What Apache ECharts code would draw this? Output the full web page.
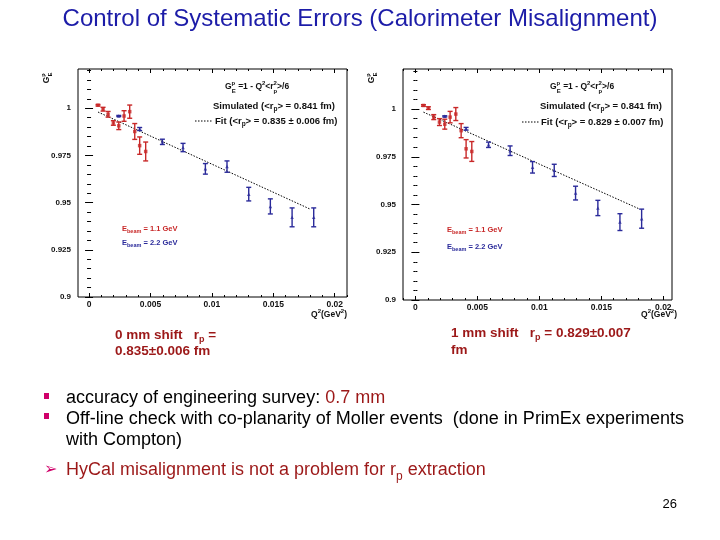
<!DOCTYPE html>
<html><head><meta charset="utf-8">
<script src="https://cdn.jsdelivr.net/npm/echarts@6/dist/echarts.min.js"></script>
<style>html,body{margin:0;padding:0;background:#fff}#c{width:720px;height:540px}</style>
</head><body><div id="c"></div>
<script>
// ---- data ----
// Left plot: 0 mm shift
const L_red_q2  = [0.00073,0.00114,0.00155,0.00198,0.00242,0.00285,0.00331,0.00372,0.00412,0.00461];
const L_red_ge  = [1.0016,0.9995,0.9968,0.9922,0.9907,0.9959,0.9982,0.9877,0.9802,0.9771];
const L_red_err = [0.0004,0.0010,0.0015,0.0012,0.0020,0.0028,0.0035,0.0042,0.0046,0.0050];
const L_blue_q2  = [0.00242,0.00412,0.00597,0.00765,0.00947,0.01123,0.01300,0.01476,0.01653,0.01829];
const L_blue_ge  = [0.9959,0.9890,0.9822,0.9792,0.9679,0.9691,0.9545,0.9480,0.9422,0.9422];
const L_blue_err = [0.0003,0.0008,0.0014,0.0022,0.0028,0.0030,0.0036,0.0040,0.0050,0.0050];
const L_fit_q2 = [0.00073,0.01802];
const L_fit_ge = [0.9980,0.9465];
// Right plot: 1 mm shift
const R_red_q2  = [0.00065,0.00105,0.00148,0.00194,0.00237,0.00280,0.00326,0.00369,0.00409,0.00455];
const R_red_ge  = [1.0019,1.0005,0.9958,0.9932,0.9921,0.9958,0.9974,0.9887,0.9792,0.9778];
const R_red_err = [0.0004,0.0007,0.0013,0.0018,0.0026,0.0030,0.0034,0.0037,0.0048,0.0052];
const R_blue_q2  = [0.00237,0.00409,0.00590,0.00764,0.00945,0.01120,0.01292,0.01472,0.01650,0.01825];
const R_blue_ge  = [0.9962,0.9897,0.9813,0.9782,0.9695,0.9679,0.9560,0.9482,0.9408,0.9426];
const R_blue_err = [0.0003,0.0007,0.0014,0.0025,0.0030,0.0032,0.0036,0.0040,0.0044,0.0050];
const R_fit_q2 = [0.00065,0.01803];
const R_fit_ge = [0.9984,0.9478];
// tick labels
const xTickValues = [0,0.005,0.01,0.015,0.02];
const xTickLabels = ['0','0.005','0.01','0.015','0.02'];
const yTickValues = [0.9,0.925,0.95,0.975,1];
const yTickLabels = ['0.9','0.925','0.95','0.975','1'];

const RED = '#c82828', BLUE = '#2a2a9a';
const FONT = '"Liberation Sans", Arial, sans-serif';

const xMinor = [], yMinor = [];
for (let i = -1; i <= 21; i++) xMinor.push(i * 0.001);
for (let i = 0; i <= 24; i++) yMinor.push(0.9 + i * 0.005);

function lookup(vals, labs) {
  return v => { const i = vals.findIndex(t => Math.abs(t - v) < 1e-9); return i >= 0 ? labs[i] : ''; };
}

const grids = [
  {left: 78, top: 69, width: 269, height: 228, xmin: -0.0009, xmax: 0.021, ymin: 0.9, ymax: 1.0208},
  {left: 403, top: 69, width: 269, height: 231, xmin: -0.001, xmax: 0.0207, ymin: 0.9, ymax: 1.0210}
];

const MAJ = 4, MIN = 2;
const xAxes = [], yAxes = [];
grids.forEach((g, gi) => {
  const base = {gridIndex: gi, type: 'value', min: g.xmin, max: g.xmax, splitLine: {show: false}, axisLine: {show: false}};
  const tk = (len, vals) => ({show: true, inside: true, length: len, customValues: vals, lineStyle: {color: '#000', width: 1}});
  xAxes.push(Object.assign({}, base, {position: 'bottom', axisTick: tk(MAJ, xTickValues),
    axisLabel: {show: true, customValues: xTickValues, formatter: lookup(xTickValues, xTickLabels), margin: 3,
      fontFamily: FONT, fontSize: 8.5, color: '#111', fontWeight: 'bold'}}));
  xAxes.push(Object.assign({}, base, {position: 'bottom', axisTick: tk(MIN, xMinor), axisLabel: {show: false}}));
  xAxes.push(Object.assign({}, base, {position: 'top', axisTick: tk(MAJ, xTickValues), axisLabel: {show: false}}));
  xAxes.push(Object.assign({}, base, {position: 'top', axisTick: tk(MIN, xMinor), axisLabel: {show: false}}));
  const ybase = {gridIndex: gi, type: 'value', min: g.ymin, max: g.ymax, splitLine: {show: false}, axisLine: {show: false}};
  yAxes.push(Object.assign({}, ybase, {position: 'left', axisTick: tk(MAJ, yTickValues),
    axisLabel: {show: true, customValues: yTickValues, formatter: lookup(yTickValues, yTickLabels), margin: 7,
      fontFamily: FONT, fontSize: 8, color: '#111', fontWeight: 'bold'}}));
  yAxes.push(Object.assign({}, ybase, {position: 'left', axisTick: tk(MIN, yMinor), axisLabel: {show: false}}));
  yAxes.push(Object.assign({}, ybase, {position: 'right', axisTick: tk(MAJ, yTickValues), axisLabel: {show: false}}));
  yAxes.push(Object.assign({}, ybase, {position: 'right', axisTick: tk(MIN, yMinor), axisLabel: {show: false}}));
});

function errBars(gi, q2, ge, err, color) {
  return {
    type: 'custom', xAxisIndex: gi * 4, yAxisIndex: gi * 4, z: 3,
    data: q2.map((q, i) => [q, ge[i] - err[i], ge[i] + err[i]]),
    encode: {x: 0, y: [1, 2]},
    renderItem: (params, api) => {
      const x = api.value(0);
      const lo = api.coord([x, api.value(1)]);
      const hi = api.coord([x, api.value(2)]);
      const cw = 2.5;
      const st = {stroke: color, lineWidth: 1.4};
      return {type: 'group', children: [
        {type: 'line', shape: {x1: lo[0], y1: lo[1], x2: hi[0], y2: hi[1]}, style: st},
        {type: 'line', shape: {x1: lo[0] - cw, y1: lo[1], x2: lo[0] + cw, y2: lo[1]}, style: st},
        {type: 'line', shape: {x1: hi[0] - cw, y1: hi[1], x2: hi[0] + cw, y2: hi[1]}, style: st}
      ]};
    }
  };
}
function markers(gi, q2, ge, color, sym, size) {
  return {type: 'scatter', xAxisIndex: gi * 4, yAxisIndex: gi * 4, z: 4, symbol: sym, symbolSize: size,
    itemStyle: {color: color}, data: q2.map((q, i) => [q, ge[i]]), silent: true};
}
function fitLine(gi, q2, ge) {
  return {type: 'line', xAxisIndex: gi * 4, yAxisIndex: gi * 4, z: 2, symbol: 'none',
    lineStyle: {color: '#000', width: 1, type: [1.5, 1.5]}, data: q2.map((q, i) => [q, ge[i]]), silent: true};
}

const series = [
  fitLine(0, L_fit_q2, L_fit_ge),
  errBars(0, L_red_q2, L_red_ge, L_red_err, RED),
  errBars(0, L_blue_q2, L_blue_ge, L_blue_err, BLUE),
  markers(0, L_red_q2, L_red_ge, RED, 'rect', 3.5),
  markers(0, L_blue_q2, L_blue_ge, BLUE, 'triangle', 3.5),
  fitLine(1, R_fit_q2, R_fit_ge),
  errBars(1, R_red_q2, R_red_ge, R_red_err, RED),
  errBars(1, R_blue_q2, R_blue_ge, R_blue_err, BLUE),
  markers(1, R_red_q2, R_red_ge, RED, 'rect', 3.5),
  markers(1, R_blue_q2, R_blue_ge, BLUE, 'triangle', 3.5)
];

function rtext(x, y, text, size, color, rich, extra) {
  const st = Object.assign({text: text, x: 0, y: 0, fontFamily: FONT, fontSize: size, fill: color,
    verticalAlign: 'middle', align: 'left', rich: rich || {}}, extra || {});
  return {type: 'text', x: x, y: y, style: st, z: 10};
}
function sb(fs, lh, extra) { return Object.assign({fontSize: fs, verticalAlign: 'bottom', lineHeight: lh, fontFamily: FONT, fontWeight: 'bold'}, extra || {}); }
function sp(fs, lh, extra) { return Object.assign({fontSize: fs, verticalAlign: 'top', lineHeight: lh, fontFamily: FONT, fontWeight: 'bold'}, extra || {}); }

function plotTexts(ox, fitText, xtx, sm) {
  return [
    rtext(ox + 225, 87, 'G{sp|p}{sb|E} =1 - Q{sp|2}<r{sp|2}{sb|p}>/6', 8.5, '#111', {
      sp: sp(6, 14), sb: sb(6, 14, {padding: [0, 0, 0, -3.5]})}, {fontWeight: 'bold'}),
    rtext(ox + sm[0], 106, 'Simulated (<r{sb|p}> = 0.841 fm)', 9.5, '#111', {sb: sb(6.5, 13)}, {fontWeight: 'bold'}),
    {type: 'line', z: 10, shape: {x1: ox + sm[1], y1: sm[3], x2: ox + sm[1] + 17, y2: sm[3]},
      style: {stroke: '#000', lineWidth: 1, lineDash: [1.5, 1.5]}},
    rtext(ox + sm[2], sm[3], fitText, 9.5, '#111', {sb: sb(6.5, 13)}, {fontWeight: 'bold'}),
    rtext(ox + 122, sm[4], 'E{sb|beam} = 1.1 GeV', 7.5, RED, {sb: sb(5.5, 11)}, {fontWeight: 'bold'}),
    rtext(ox + 122, sm[5], 'E{sb|beam} = 2.2 GeV', 7.5, BLUE, {sb: sb(5.5, 11)}, {fontWeight: 'bold'}),
    {type: 'text', x: ox + 47, y: 78, rotation: Math.PI / 2, z: 10,
      style: {text: 'G{sp|p}{sb|E}', fontFamily: FONT, fontSize: 8.5, fontWeight: 'bold', fill: '#111',
        align: 'center', verticalAlign: 'middle',
        rich: {sp: sp(5.5, 13), sb: sb(5.5, 13, {padding: [0, 0, 0, -3]})}}},
    rtext(xtx, 315, 'Q{sp|2}(GeV{sp|2})', 8.5, '#111', {sp: sp(6, 13)}, {fontWeight: 'bold', align: 'right'})
  ];
}

const DR = '#9c1818';
const graphics = [].concat(
  [rtext(360, 19, 'Control of Systematic Errors (Calorimeter Misalignment)', 24, '#1c1ca8', null, {align: 'center'})],
  plotTexts(0, 'Fit (<r{sb|p}> = 0.835 \u00b1 0.006 fm)', 347, [213, 195, 215, 121, 229, 243]),
  plotTexts(325, 'Fit (<r{sb|p}> = 0.829 \u00b1 0.007 fm)', 677, [215, 197, 216, 122, 230, 247]),
  [
    rtext(115, 335, '0 mm shift   r{sb|p} =', 13.5, DR, {sb: sb(9, 18)}, {fontWeight: 'bold'}),
    rtext(115, 351, '0.835\u00b10.006 fm', 13.5, DR, null, {fontWeight: 'bold'}),
    rtext(451, 333, '1 mm shift   r{sb|p} = 0.829\u00b10.007', 13.5, DR, {sb: sb(9, 18)}, {fontWeight: 'bold'}),
    rtext(451, 350, 'fm', 13.5, DR, null, {fontWeight: 'bold'}),
    {type: 'rect', z: 10, shape: {x: 44, y: 393, width: 5, height: 6}, style: {fill: '#d0006a'}},
    {type: 'rect', z: 10, shape: {x: 44, y: 413, width: 5, height: 6}, style: {fill: '#d0006a'}},
    rtext(66, 398, 'accuracy of engineering survey: {r|0.7 mm}', 18, '#000', {r: {fill: DR, fontSize: 18, fontFamily: FONT}}),
    rtext(66, 419, 'Off-line check with co-planarity of Moller events  (done in PrimEx experiments', 18, '#000'),
    rtext(66, 440, 'with Compton)', 18, '#000'),
    rtext(44, 470, '\u27a2', 16, '#d0006a', null, {fontFamily: '"DejaVu Sans"'}),
    rtext(66, 470, 'HyCal misalignment is not a problem for r{sb|p} extraction', 18, DR,
      {sb: {fontSize: 12, verticalAlign: 'bottom', lineHeight: 25, fill: DR, fontFamily: FONT}}),
    rtext(677, 504, '26', 13, '#000', null, {align: 'right'})
  ]
);

const chart = echarts.init(document.getElementById('c'), null, {renderer: 'canvas'});
chart.setOption({
  animation: false,
  backgroundColor: '#fff',
  grid: grids.map(g => ({left: g.left, top: g.top, width: g.width, height: g.height, show: true,
    borderColor: '#000', borderWidth: 1, backgroundColor: 'transparent', containLabel: false})),
  xAxis: xAxes,
  yAxis: yAxes,
  series: series,
  graphic: graphics
});
</script></body></html>
